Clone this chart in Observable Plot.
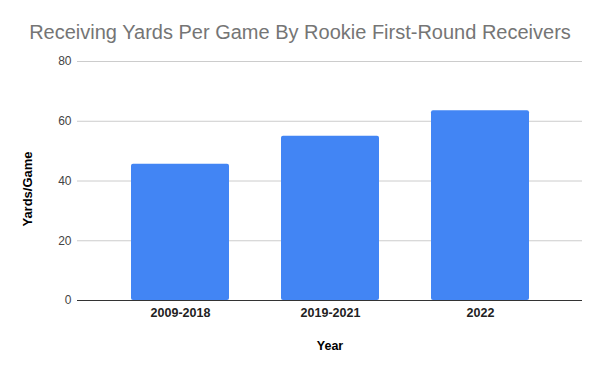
<!DOCTYPE html>
<html>
<head>
<meta charset="utf-8">
<script src="https://cdn.jsdelivr.net/npm/d3@7"></script>
<script src="https://cdn.jsdelivr.net/npm/@observablehq/plot@0.6"></script>
<style>
  html, body { margin: 0; padding: 0; background: #fff; }
  #wrap { position: relative; width: 600px; height: 371px; font-family: "Liberation Sans", Arial, sans-serif; }
  #title { position: absolute; left: 0; top: 21px; width: 600px; text-align: center; font-size: 20px; color: #757575; }
  #chart { position: absolute; left: 0; top: 0; }
</style>
</head>
<body>
<div id="wrap">
  <div id="chart"></div>
  <div id="title">Receiving Yards Per Game By Rookie First-Round Receivers</div>
</div>
<script>
const categories = ["2009-2018", "2019-2021", "2022"];
const yardsPerGame = [45.6, 55.0, 63.5];
const yTicks = [0, 20, 40, 60, 80];

const data = categories.map((c, i) => ({ year: c, ypg: yardsPerGame[i] }));

const chart = Plot.plot({
  width: 600,
  height: 371,
  marginTop: 61,
  marginBottom: 71,
  marginLeft: 77,
  marginRight: 18,
  style: { fontFamily: "'Liberation Sans', Arial, sans-serif", background: "#fff" },
  x: { domain: categories, padding: 0.35, label: null },
  y: { domain: [0, 80], ticks: yTicks, label: null },
  marks: [
    Plot.gridY(yTicks.filter(d => d !== 0), { stroke: "#cccccc", strokeOpacity: 1, strokeWidth: 1 }),
    Plot.barY(data, { x: "year", y: "ypg", fill: "#4285f4", rx: 2 }),
    Plot.ruleY([0], { stroke: "#333333", strokeWidth: 1 }),
    Plot.axisY(yTicks, { tickSize: 0, tickPadding: 6, fontSize: 12, fill: "#444444", label: null }),
    Plot.axisX(categories, { tickSize: 0, tickPadding: 8, fontSize: 12.5, fontWeight: "bold", fill: "#222222", label: null }),
    Plot.text(["Year"], { frameAnchor: "bottom", dy: 49, fontSize: 12.5, fontWeight: "bold", fill: "#000" }),
    Plot.text(["Yards/Game"], { frameAnchor: "left", textAnchor: "middle", dx: -50, dy: 8, rotate: -90, fontSize: 13, fontWeight: "bold", fill: "#000" })
  ]
});
document.getElementById("chart").appendChild(chart);
</script>
</body>
</html>
